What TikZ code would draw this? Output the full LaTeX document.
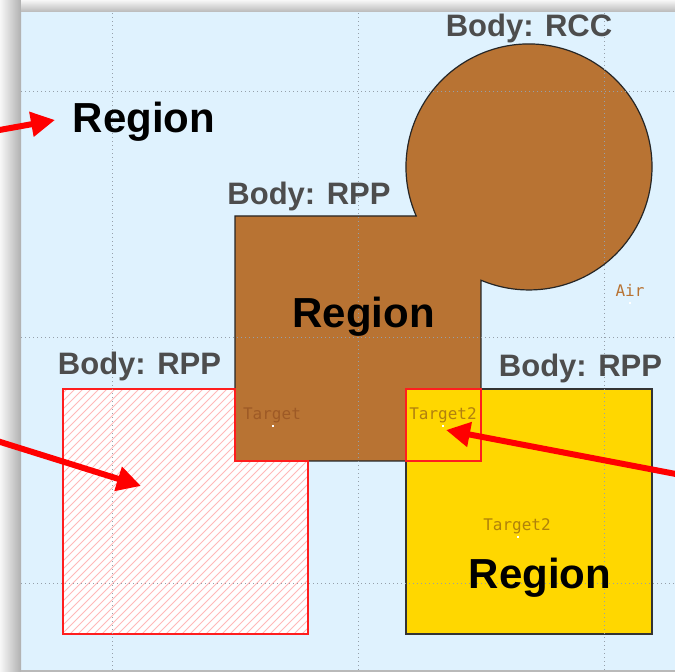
\documentclass[tikz,border=0pt]{standalone}
\usepackage{fontspec}
\setmainfont{Liberation Sans}
\newfontfamily\monolabelfont{DejaVu Sans Mono}
\usetikzlibrary{arrows.meta}
\definecolor{bgblue}{RGB}{223,242,254}
\definecolor{cuBrown}{RGB}{184,115,51}
\definecolor{goldFill}{RGB}{255,215,0}
\definecolor{labelGray}{RGB}{77,77,77}
\definecolor{hatchPink}{RGB}{255,185,185}
\definecolor{outRed}{RGB}{255,30,30}
\definecolor{tgtBrown}{RGB}{158,90,38}
\definecolor{tgtGold}{RGB}{176,130,10}
\definecolor{gridGray}{RGB}{150,160,170}
\begin{document}
\begin{tikzpicture}[x=1pt,y=1pt,
  bodylabel/.style={font=\fontsize{31}{31}\selectfont\bfseries, text=labelGray, anchor=base, inner sep=0pt},
  regionlabel/.style={font=\fontsize{42}{42}\selectfont\bfseries, text=black, anchor=base, inner sep=0pt},
  monolabel/.style={font=\monolabelfont\fontsize{16}{16}\selectfont, anchor=base, inner sep=0pt},
  gridline/.style={gridGray, line width=1pt, dash pattern=on 1.2pt off 2.8pt},
  bigarrow/.style={red, line width=6pt, -{Triangle[length=24pt,width=24pt]}},
  dotmark/.style={fill=white, draw=none, minimum size=2pt, inner sep=0pt}
]
\useasboundingbox (0,0) rectangle (675,672);
% background and frame
\fill[bgblue] (21,2) rectangle (675,660);
\shade[left color=gray!6, right color=gray!62] (0,0) rectangle (21,672);
\shade[top color=gray!6, bottom color=gray!55] (21,660) rectangle (675,672);
\fill[gray!55] (21,0) rectangle (675,2);

% hatched target region (red box minus brown)
\begin{scope}
  \clip (63,283) -- (235,283) -- (235,211) -- (308,211) -- (308,38) -- (63,38) -- cycle;
  \fill[white] (63,38) rectangle (308,283);
  \foreach \c in {-232,-224,...,280} {
    \draw[hatchPink, line width=0.9pt] (\c+30,30) -- (\c+290,290);
  }
\end{scope}

% brown body: RPP union RCC
\filldraw[fill=cuBrown, draw=black!85, line width=1.2pt]
  (235,211) -- (235,456) -- (416.2,456)
  arc[start angle=203.5, end angle=-113.0, radius=123pt]
  -- (481,211) -- cycle;

% yellow body
\filldraw[fill=goldFill, draw=black!80, line width=1.2pt] (406,38) rectangle (652,283);

% red outlines
\draw[outRed, line width=1.3pt] (63,283) -- (235,283) -- (235,211) -- (308,211) -- (308,38) -- (63,38) -- cycle;
\draw[outRed, line width=1.3pt] (406,211) rectangle (481,283);

% grid
\foreach \gx in {112,358,604} { \draw[gridline] (\gx,2) -- (\gx,660); }
\foreach \gy in {580,334,88} { \draw[gridline] (21,\gy) -- (675,\gy); }

% labels
\node[bodylabel] (lblrcc) at (529,635) {Body: RCC};
\node[bodylabel] (lblrppc) at (309,467) {Body: RPP};
\node[bodylabel] (lblrppl) at (139.5,297) {Body: RPP};
\node[bodylabel] (lblrppr) at (580.5,295) {Body: RPP};

\node[regionlabel] (regtl) at (144,539) {Region};
\node[regionlabel] (regc) at (363.5,344) {Region};
\node[regionlabel] (regy) at (540,83) {Region};

\node[monolabel, text=tgtBrown] (tgt) at (272,252) {Target};
\node[monolabel, text=tgtGold!85!cuBrown] (tgt2a) at (443,252) {Target2};
\node[monolabel, text=tgtGold] (tgt2b) at (517,141) {Target2};
\node[monolabel, text=cuBrown] (air) at (630,375) {Air};

% anchor dots
\node[dotmark] (d1) at (273,246) {};
\node[dotmark] (d2) at (443,246) {};
\node[dotmark] (d3) at (518,135) {};
\node[dotmark] (d4) at (630,369) {};

% arrows
\coordinate (a1s) at (-6,541);
\coordinate (a1e) at (55,552);
\coordinate (a2s) at (-6,232);
\coordinate (a2e) at (141,186);
\coordinate (a3s) at (681,197);
\coordinate (a3e) at (446,242);
\draw[bigarrow] (a1s) -- (a1e);
\draw[bigarrow] (a2s) -- (a2e);
\draw[bigarrow] (a3s) -- (a3e);
\end{tikzpicture}
\end{document}
